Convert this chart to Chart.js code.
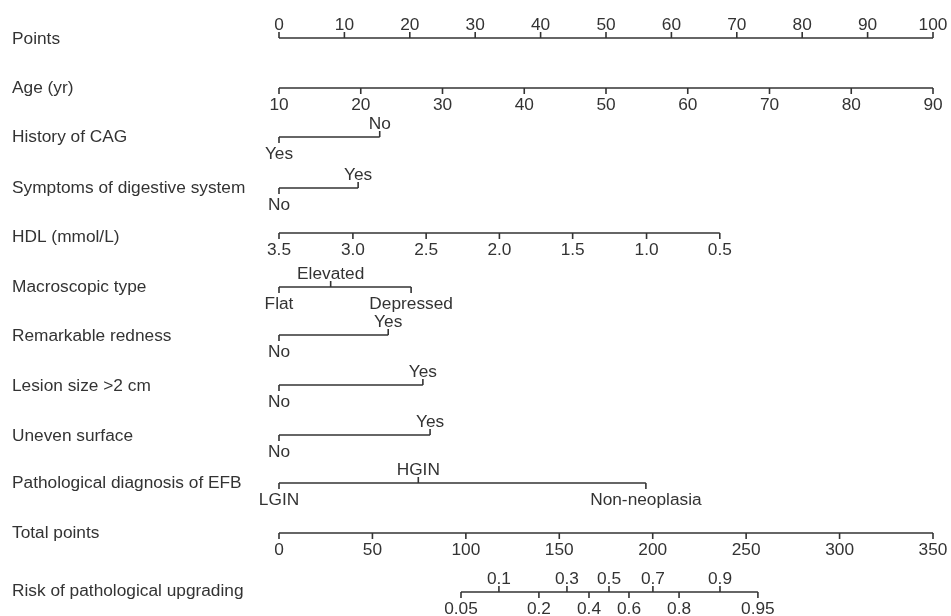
<!DOCTYPE html>
<html>
<head>
  <meta charset="utf-8">
  <title>Nomogram - risk of pathological upgrading</title>
  <script src="https://cdn.jsdelivr.net/npm/chart.js@4.4.1/dist/chart.umd.min.js"></script>
  <style>
    body { margin: 0; background: #fff; }
    #wrap { width: 951px; height: 616px; }
  </style>
</head>
<body>
<div id="wrap">
  <canvas id="myChart" width="951" height="616"></canvas>
</div>

<script>
// row titles
var rowTitles = ['Points', 'Age (yr)', 'History of CAG', 'Symptoms of digestive system',
  'HDL (mmol/L)', 'Macroscopic type', 'Remarkable redness', 'Lesion size >2 cm',
  'Uneven surface', 'Pathological diagnosis of EFB', 'Total points', 'Risk of pathological upgrading'];

// tick labels and the points scale value each one sits at
var pointsLabels = ['0', '10', '20', '30', '40', '50', '60', '70', '80', '90', '100'];
var pointsValues = [0, 10, 20, 30, 40, 50, 60, 70, 80, 90, 100];

var ageLabels = ['10', '20', '30', '40', '50', '60', '70', '80', '90'];
var agePoints = [0, 12.5, 25, 37.5, 50, 62.5, 75, 87.5, 100];

var cagLabels = ['Yes', 'No'];
var cagPoints = [0, 15.4];

var symptomLabels = ['No', 'Yes'];
var symptomPoints = [0, 12.1];

var hdlLabels = ['3.5', '3.0', '2.5', '2.0', '1.5', '1.0', '0.5'];
var hdlPoints = [0, 11.3, 22.5, 33.7, 44.9, 56.2, 67.4];

var macroLabels = ['Flat', 'Elevated', 'Depressed'];
var macroPoints = [0, 7.9, 20.2];

var rednessLabels = ['No', 'Yes'];
var rednessPoints = [0, 16.7];

var lesionLabels = ['No', 'Yes'];
var lesionPoints = [0, 22.0];

var unevenLabels = ['No', 'Yes'];
var unevenPoints = [0, 23.1];

var pathLabels = ['LGIN', 'HGIN', 'Non-neoplasia'];
var pathPoints = [0, 21.3, 56.1];

var totalLabels = ['0', '50', '100', '150', '200', '250', '300', '350'];
var totalValues = [0, 50, 100, 150, 200, 250, 300, 350];

var riskLabels = ['0.05', '0.1', '0.2', '0.3', '0.4', '0.5', '0.6', '0.7', '0.8', '0.9', '0.95'];
var riskTotals = [97.4, 117.7, 139.1, 154.1, 165.9, 176.6, 187.3, 200.1, 214.1, 236.0, 256.3];

var maxTotal = 350;

// layout (row units, 50px each)
var lineRow  = [0, 1, 1.98, 3, 3.9, 4.98, 5.94, 6.94, 7.94, 8.9, 9.9, 11.08];
var titleRow = [0.02, 1, 1.98, 3, 3.98, 4.98, 5.96, 6.96, 7.96, 8.9, 9.9, 11.06];

function toPts(list) {
  return list.map(function(v) { return v * 100 / maxTotal; });
}

// side: 'up' all above, 'down' all below, 'alt' alternating starting below
var rows = [
  { labels: pointsLabels, x: pointsValues, side: 'up' },
  { labels: ageLabels, x: agePoints, side: 'down' },
  { labels: cagLabels, x: cagPoints, side: 'alt' },
  { labels: symptomLabels, x: symptomPoints, side: 'alt' },
  { labels: hdlLabels, x: hdlPoints, side: 'down' },
  { labels: macroLabels, x: macroPoints, side: 'alt' },
  { labels: rednessLabels, x: rednessPoints, side: 'alt' },
  { labels: lesionLabels, x: lesionPoints, side: 'alt' },
  { labels: unevenLabels, x: unevenPoints, side: 'alt' },
  { labels: pathLabels, x: pathPoints, side: 'alt' },
  { labels: totalLabels, x: toPts(totalValues), side: 'down' },
  { labels: riskLabels, x: toPts(riskTotals), side: 'alt' }
];

var ink = '#333333';
var font = '17.3px "Liberation Sans", Arial, sans-serif';

var datasets = rows.map(function(r, i) {
  var lo = Math.min.apply(null, r.x);
  var hi = Math.max.apply(null, r.x);
  return {
    label: rowTitles[i],
    data: [{ x: lo, y: lineRow[i] }, { x: hi, y: lineRow[i] }],
    showLine: true,
    borderColor: ink,
    borderWidth: 1.6,
    pointRadius: 0,
    clip: false
  };
});

var nomoPlugin = {
  id: 'nomo',
  afterDatasetsDraw: function(chart) {
    var ctx = chart.ctx;
    var xs = chart.scales.x, ys = chart.scales.y;
    ctx.save();
    ctx.font = font;
    ctx.fillStyle = ink;
    ctx.strokeStyle = ink;
    ctx.lineWidth = 1.6;

    rows.forEach(function(r, i) {
      // title on the left
      ctx.textAlign = 'left';
      ctx.textBaseline = 'middle';
      ctx.fillText(rowTitles[i], 12, ys.getPixelForValue(titleRow[i]));

      var yLine = ys.getPixelForValue(lineRow[i]);
      ctx.textAlign = 'center';
      ctx.textBaseline = 'alphabetic';
      r.x.forEach(function(v, j) {
        var px = xs.getPixelForValue(v);
        var up = r.side === 'up' || (r.side === 'alt' && j % 2 === 1);
        ctx.beginPath();
        ctx.moveTo(px, yLine);
        ctx.lineTo(px, up ? yLine - 6 : yLine + 6);
        ctx.stroke();
        ctx.fillText(r.labels[j], px, up ? yLine - 8 : yLine + 22);
      });
    });
    ctx.restore();
  }
};

var chart = new Chart(document.getElementById('myChart').getContext('2d'), {
  type: 'scatter',
  data: { datasets: datasets },
  options: {
    responsive: false,
    animation: false,
    devicePixelRatio: 1,
    layout: { padding: { left: 279, right: 18, top: 0, bottom: 0 } },
    plugins: { legend: { display: false }, tooltip: { enabled: false } },
    scales: {
      x: { type: 'linear', min: 0, max: 100, display: false },
      y: { type: 'linear', min: -0.76, max: 11.56, reverse: true, display: false }
    }
  },
  plugins: [nomoPlugin]
});
</script>
</body>
</html>
